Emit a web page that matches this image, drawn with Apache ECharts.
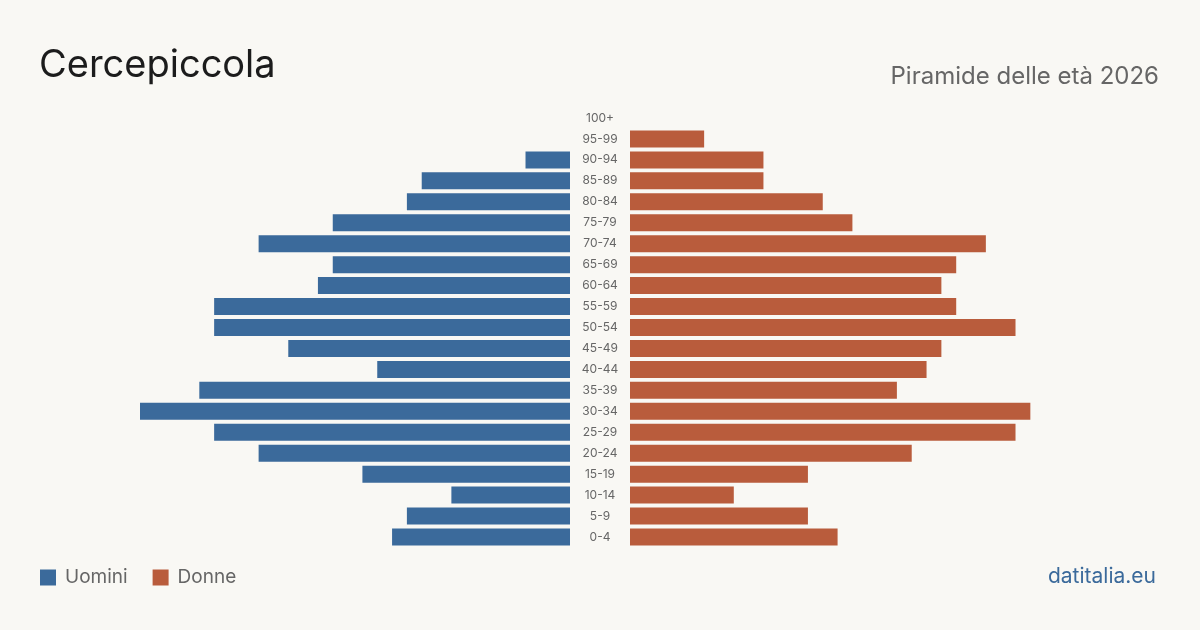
<!DOCTYPE html>
<html>
<head>
<meta charset="utf-8">
<style>
  html, body { margin: 0; padding: 0; background: #f9f8f4; }
  #chart { width: 1200px; height: 630px; }
</style>
<script src="https://cdn.jsdelivr.net/npm/echarts@6/dist/echarts.min.js"></script>
</head>
<body>
<div id="chart"></div>
<script>
// fasce d'età, dal basso verso l'alto
const ageGroups = ['0-4', '5-9', '10-14', '15-19', '20-24', '25-29', '30-34', '35-39', '40-44', '45-49',
  '50-54', '55-59', '60-64', '65-69', '70-74', '75-79', '80-84', '85-89', '90-94', '95-99', '100+'];
const uomini = [12, 11, 8, 14, 21, 24, 29, 25, 13, 19, 24, 24, 17, 16, 21, 16, 11, 10, 3, 0, 0];
const donne = [14, 12, 7, 12, 19, 26, 27, 18, 20, 21, 26, 22, 21, 22, 24, 15, 13, 9, 9, 5, 0];

const BLUE = '#3b6a9b';
const ORANGE = '#b95c3c';
const FONT = 'Inter, "Noto Sans", sans-serif';

const maxVal = Math.max(...uomini, ...donne);

const chart = echarts.init(document.getElementById('chart'), null, { renderer: 'canvas' });

const option = {
  backgroundColor: '#f9f8f4',
  animation: false,
  title: [
    {
      text: 'Cercepiccola',
      left: 34,
      top: 42,
      textStyle: { fontFamily: FONT, fontSize: 38, fontWeight: 'normal', color: '#1c1c1c' }
    },
    {
      text: 'Piramide delle età 2026',
      right: 36,
      top: 60,
      textStyle: { fontFamily: FONT, fontSize: 24, fontWeight: 'normal', color: '#666666' }
    },
    {
      text: 'datitalia.eu',
      right: 39,
      top: 561,
      textStyle: { fontFamily: FONT, fontSize: 21, fontWeight: 'normal', color: '#3b6a9b' }
    }
  ],
  legend: {
    left: 35,
    top: 563,
    itemWidth: 16,
    itemHeight: 16,
    itemGap: 25,
    icon: 'rect',
    data: ['Uomini', 'Donne'],
    textStyle: { fontFamily: FONT, fontSize: 19, color: '#666666', padding: [0, 0, 0, 4] }
  },
  grid: [
    { left: 140, width: 430, top: 107.5, bottom: 82.5 },
    { left: 630, width: 430, top: 107.5, bottom: 82.5 }
  ],
  xAxis: [
    { gridIndex: 0, type: 'value', min: 0, max: maxVal, inverse: true, show: false },
    { gridIndex: 1, type: 'value', min: 0, max: maxVal, show: false }
  ],
  yAxis: [
    {
      gridIndex: 0, type: 'category', data: ageGroups,
      axisLine: { show: false }, axisTick: { show: false }, axisLabel: { show: false }
    },
    {
      gridIndex: 1, type: 'category', data: ageGroups,
      axisLine: { show: false }, axisTick: { show: false },
      axisLabel: {
        show: true, align: 'center', margin: 30,
        fontFamily: FONT, fontSize: 12, color: '#666666'
      }
    }
  ],
  series: [
    {
      name: 'Uomini', type: 'bar', xAxisIndex: 0, yAxisIndex: 0,
      data: uomini, barWidth: 17, itemStyle: { color: BLUE }
    },
    {
      name: 'Donne', type: 'bar', xAxisIndex: 1, yAxisIndex: 1,
      data: donne, barWidth: 17, itemStyle: { color: ORANGE }
    }
  ]
};

chart.setOption(option);
</script>
</body>
</html>
